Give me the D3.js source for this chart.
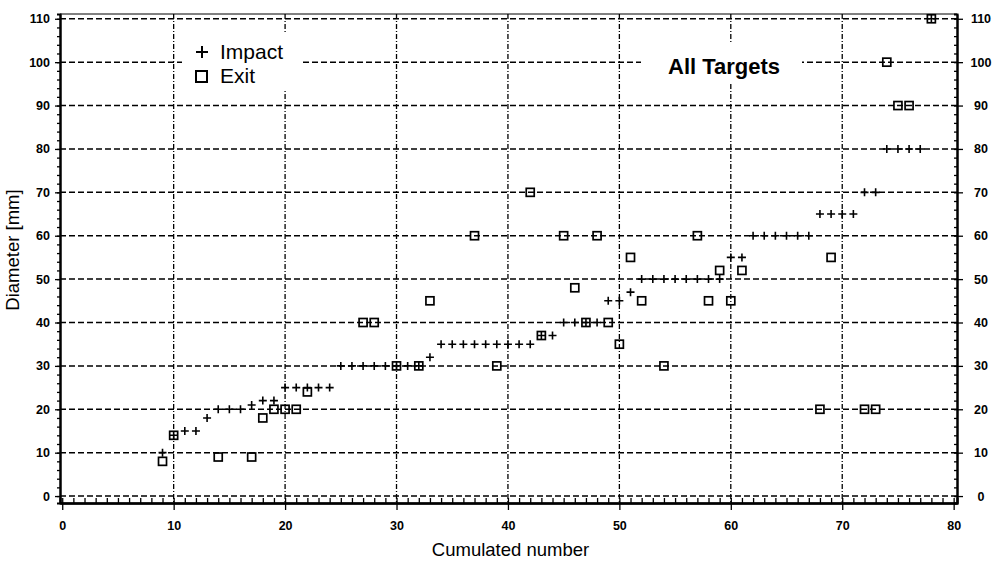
<!DOCTYPE html>
<html>
<head>
<meta charset="utf-8">
<script src="https://cdn.jsdelivr.net/npm/d3@7"></script>
<style>
  body { margin: 0; background: #fff; }
  svg { display: block; }
</style>
</head>
<body>
<svg id="chart" width="1000" height="561"></svg>
<script>
// impact holes: cumulated number and diameter [mm]
var impactNumber = [9, 10, 11, 12, 13, 14, 15, 16, 17, 18, 19, 20, 21, 22, 23, 24,
    25, 26, 27, 28, 29, 30, 31, 32, 33, 34, 35, 36, 37, 38, 39, 40, 41, 42,
    43, 44, 45, 46, 47, 48, 49, 50, 51, 52, 53, 54, 55, 56, 57, 58, 59,
    60, 61, 62, 63, 64, 65, 66, 67, 68, 69, 70, 71, 72, 73, 74, 75, 76, 77, 78];
var impactDiameter = [10, 14, 15, 15, 18, 20, 20, 20, 21, 22, 22, 25, 25, 25, 25, 25,
    30, 30, 30, 30, 30, 30, 30, 30, 32, 35, 35, 35, 35, 35, 35, 35, 35, 35,
    37, 37, 40, 40, 40, 40, 45, 45, 47, 50, 50, 50, 50, 50, 50, 50, 50,
    55, 55, 60, 60, 60, 60, 60, 60, 65, 65, 65, 65, 70, 70, 80, 80, 80, 80, 110];

// exit holes
var exitNumber = [9, 10, 14, 17, 18, 19, 20, 21, 22, 27, 28, 30, 32, 33, 37, 39, 42, 43,
    45, 46, 47, 48, 49, 50, 51, 52, 54, 57, 58, 59, 60, 61, 68, 69, 72, 73,
    74, 75, 76, 78];
var exitDiameter = [8, 14, 9, 9, 18, 20, 20, 20, 24, 40, 40, 30, 30, 45, 60, 30, 70, 37,
    60, 48, 40, 60, 40, 35, 55, 45, 30, 60, 45, 52, 45, 52, 20, 55, 20, 20,
    100, 90, 90, 110];

var xTickValues = [0, 10, 20, 30, 40, 50, 60, 70, 80];
var yTickValues = [0, 10, 20, 30, 40, 50, 60, 70, 80, 90, 100, 110];
var xMinorValues = d3.range(0, 81, 1);
var yMinorValues = d3.range(0, 111, 2);

var legendLabels = ["Impact", "Exit"];
var chartTitle = "All Targets";
var xTitle = "Cumulated number";
var yTitle = "Diameter [mm]";

var svg = d3.select("#chart");

// plot frame (window.top is reserved, so use other names)
var frameLeft = 60, frameRight = 957, frameTop = 14, frameBottom = 503;

var x = d3.scaleLinear().domain([-0.2, 80.3]).range([frameLeft, frameRight]);
var y = d3.scaleLinear().domain([-1.6, 111.1]).range([frameBottom, frameTop]);

var tickFont = "'Liberation Sans', Arial, sans-serif";

// grid lines
svg.append("g").selectAll("line")
    .data(yTickValues)
    .enter()
    .append("line")
    .attr("x1", frameLeft).attr("x2", frameRight)
    .attr("y1", function (d) { return y(d); })
    .attr("y2", function (d) { return y(d); })
    .attr("stroke", "#000")
    .attr("stroke-width", 1.5)
    .attr("stroke-dasharray", "6,3");

svg.append("g").selectAll("line")
    .data(xTickValues.slice(1, 8))
    .enter()
    .append("line")
    .attr("y1", frameTop).attr("y2", frameBottom)
    .attr("x1", function (d) { return x(d); })
    .attr("x2", function (d) { return x(d); })
    .attr("stroke", "#000")
    .attr("stroke-width", 1.3)
    .attr("stroke-dasharray", "5,2,1,2");

// top border
svg.append("line")
    .attr("x1", frameLeft).attr("x2", frameRight)
    .attr("y1", frameTop).attr("y2", frameTop)
    .attr("stroke", "#000").attr("stroke-width", 1);

// minor ticks
svg.append("g")
    .attr("transform", "translate(0," + frameBottom + ")")
    .call(d3.axisBottom(x).tickValues(xMinorValues).tickSize(-5).tickFormat(""));
svg.append("g")
    .attr("transform", "translate(" + frameLeft + ",0)")
    .call(d3.axisLeft(y).tickValues(yMinorValues).tickSize(3).tickFormat(""));
svg.append("g")
    .attr("transform", "translate(" + frameRight + ",0)")
    .call(d3.axisRight(y).tickValues(yMinorValues).tickSize(-3).tickFormat(""));

// major axes
var gx = svg.append("g")
    .attr("transform", "translate(0," + frameBottom + ")")
    .call(d3.axisBottom(x).tickValues(xTickValues).tickSize(7).tickSizeOuter(0).tickPadding(11));
var gy = svg.append("g")
    .attr("transform", "translate(" + frameLeft + ",0)")
    .call(d3.axisLeft(y).tickValues(yTickValues).tickSize(5).tickSizeOuter(0).tickPadding(5));
var gr = svg.append("g")
    .attr("transform", "translate(" + frameRight + ",0)")
    .call(d3.axisRight(y).tickValues(yTickValues).tickSize(6).tickSizeOuter(0).tickPadding(18));

svg.selectAll(".domain").attr("stroke", "#000").attr("stroke-width", 2);
gx.select(".domain").attr("stroke-width", 2.5);
svg.selectAll(".tick line").attr("stroke", "#000").attr("stroke-width", 1.3);
svg.selectAll(".tick text")
    .attr("font-family", tickFont)
    .attr("font-size", 12.5)
    .attr("font-weight", "bold")
    .attr("fill", "#000");
gr.selectAll(".tick text").attr("text-anchor", "middle");

// white boxes behind legend and title (they hide the 100 grid line)
svg.append("rect")
    .attr("x", 182).attr("y", 34).attr("width", 118).attr("height", 56)
    .attr("fill", "#fff");
svg.append("rect")
    .attr("x", 641).attr("y", 44).attr("width", 161).attr("height", 40)
    .attr("fill", "#fff");

// impact markers (+)
var s = 4;
svg.append("g").selectAll("path")
    .data(impactNumber)
    .enter()
    .append("path")
    .attr("d", function (d, i) {
        var cx = x(d), cy = y(impactDiameter[i]);
        return "M" + (cx - s) + "," + cy + "H" + (cx + s) + "M" + cx + "," + (cy - s) + "V" + (cy + s);
    })
    .attr("stroke", "#000")
    .attr("stroke-width", 1.6)
    .attr("fill", "none");

// exit markers (square)
svg.append("g").selectAll("rect")
    .data(exitNumber)
    .enter()
    .append("rect")
    .attr("x", function (d) { return x(d) - 4; })
    .attr("y", function (d, i) { return y(exitDiameter[i]) - 4; })
    .attr("width", 8)
    .attr("height", 8)
    .attr("fill", "none")
    .attr("stroke", "#000")
    .attr("stroke-width", 1.7);

// legend
var lg = svg.append("g").attr("font-family", tickFont).attr("font-size", 21);
lg.append("path")
    .attr("d", "M196,52H208M202,46V58")
    .attr("stroke", "#000").attr("stroke-width", 2);
lg.append("rect")
    .attr("x", 196).attr("y", 71).attr("width", 11).attr("height", 11)
    .attr("fill", "none").attr("stroke", "#000").attr("stroke-width", 2);
lg.selectAll("text")
    .data(legendLabels)
    .enter()
    .append("text")
    .attr("x", 220)
    .attr("y", function (d, i) { return 59 + i * 24; })
    .text(function (d) { return d; });

// title
svg.append("text")
    .attr("x", 668).attr("y", 74)
    .attr("font-family", tickFont)
    .attr("font-size", 22)
    .attr("font-weight", "bold")
    .text(chartTitle);

// axis titles
svg.append("text")
    .attr("x", (frameLeft + frameRight) / 2 + 2).attr("y", 556)
    .attr("text-anchor", "middle")
    .attr("font-family", tickFont)
    .attr("font-size", 18.5)
    .text(xTitle);

svg.append("text")
    .attr("transform", "translate(19,250) rotate(-90)")
    .attr("text-anchor", "middle")
    .attr("font-family", tickFont)
    .attr("font-size", 18.5)
    .text(yTitle);
</script>
</body>
</html>
